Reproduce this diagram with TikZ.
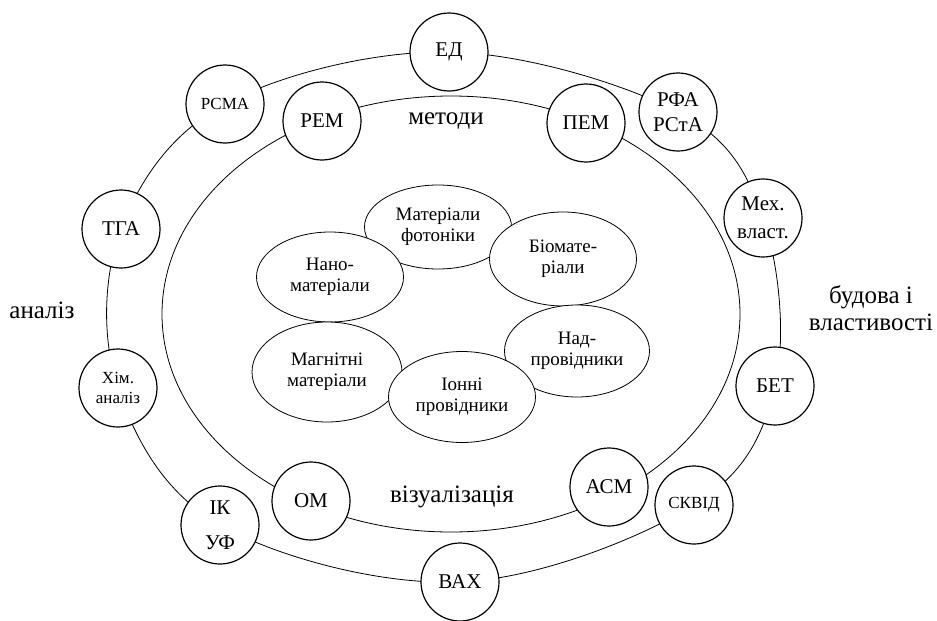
\documentclass[tikz,border=0pt]{standalone}
\usepackage{fontspec}
\setmainfont{Liberation Serif}
\usetikzlibrary{shapes.geometric, backgrounds}

\begin{document}
\begin{tikzpicture}[
  x=0.5pt, y=-0.5pt,
  line width=0.6pt,
  meth/.style={circle, draw, fill=white, minimum size=39pt, inner sep=0pt, align=center, font=\fontsize{10.5}{12}\selectfont},
  smallmeth/.style={meth, font=\fontsize{8.5}{10}\selectfont},
  mat/.style={ellipse, draw, fill=white, minimum width=73.5pt, minimum height=45pt, inner sep=0pt, align=center, font=\fontsize{9.5}{10.5}\selectfont},
  group/.style={align=center, font=\fontsize{12.5}{13.5}\selectfont}
]
\useasboundingbox (0,0) rectangle (937,621);

% Outer ring methods
\node (ed) at (449,52) [meth] {ЕД};
\node (rfa) at (678,112) [meth, font=\fontsize{10.5}{12.5}\selectfont] {РФА\\РСтА};
\node (mekh) at (763,218) [meth, font=\fontsize{10.5}{14}\selectfont] {Мех.\\власт.};
\node (bet) at (775,386) [meth] {БЕТ};
\node (skvid) at (694,505) [smallmeth] {СКВІД};
\node (vakh) at (460,582) [meth] {ВАХ};
\node (ik) at (220,525) [meth, font=\fontsize{10.5}{17.5}\selectfont] {ІК\\УФ};
\node (khim) at (118,388) [smallmeth] {Хім.\\аналіз};
\node (tga) at (121,229) [meth] {ТГА};
\node (rsma) at (225,104) [smallmeth] {РСМА};

% Inner ring methods
\node (rem) at (322,121) [meth] {РЕМ};
\node (pem) at (586,123) [meth] {ПЕМ};
\node (asm) at (609,487) [meth] {АСМ};
\node (om) at (311,501) [meth] {ОМ};

% Rings
\begin{pgfonlayer}{background}
\draw plot[smooth cycle, tension=0.6] coordinates {(ed) (rfa) (mekh) (bet) (skvid) (vakh) (ik) (khim) (tga) (rsma)};
\draw (451,314) ellipse [x radius=144.5pt, y radius=109pt];
\end{pgfonlayer}

% Materials
\node (mat-foton) at (438,227) [mat, minimum height=42pt] {Матеріали\\фотоніки};
\node (nano-mat) at (330,277) [mat] {Нано-\\матеріали};
\node (bio-mat) at (563,259) [mat, minimum height=47pt] {Біомате-\\ріали};
\node (magn-mat) at (327,372) [mat, minimum width=75pt, minimum height=50pt] {Магнітні\\матеріали};
\node (nadprov) at (577,351) [mat, minimum width=72.5pt, minimum height=46pt] {Над-\\провідники};
\node (ion-prov) at (462,397) [mat, minimum height=45.5pt] {Іонні\\провідники};

% Group labels
\node (metody) at (446,121) [group] {методи};
\node (vizual) at (452,497) [group] {візуалізація};
\node (analiz) at (42,310) [group] {аналіз};
\node (budova) at (871,308) [group] {будова і\\властивості};

\end{tikzpicture}
\end{document}
